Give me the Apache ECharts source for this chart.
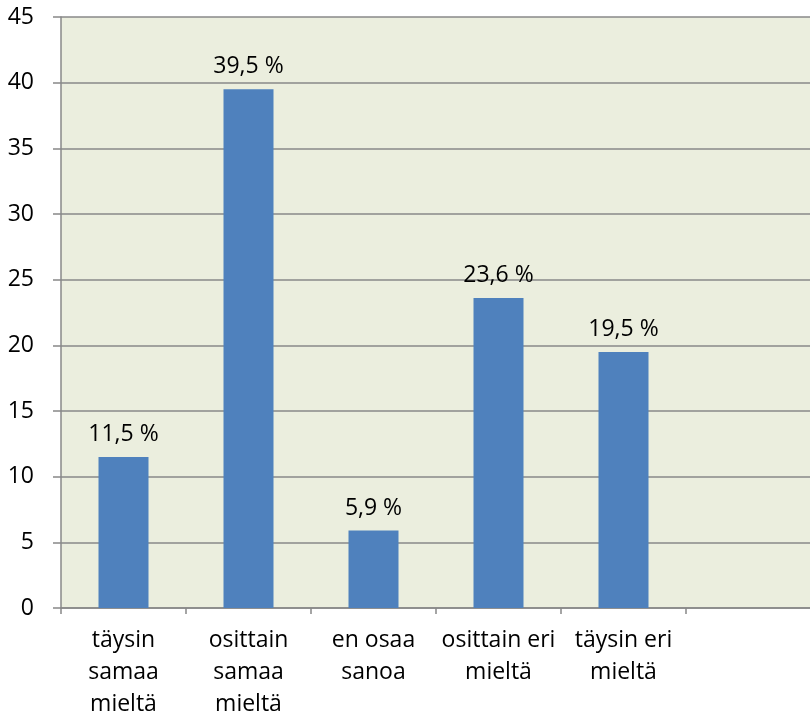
<!DOCTYPE html>
<html>
<head>
<meta charset="utf-8">
<script src="https://cdn.jsdelivr.net/npm/echarts@6/dist/echarts.min.js"></script>
<style>html,body{margin:0;padding:0;background:#fff;}#c{width:810px;height:717px;}</style>
</head>
<body>
<div id="c"></div>
<script>
const categories = ['täysin\nsamaa\nmieltä', 'osittain\nsamaa\nmieltä', 'en osaa\nsanoa', 'osittain eri\nmieltä', 'täysin eri\nmieltä', ''];
const values = [11.5, 39.5, 5.9, 23.6, 19.5, null];
const yTicks = { min: 0, max: 45, interval: 5 };

const chart = echarts.init(document.getElementById('c'));
const font = 'Open Sans';
chart.setOption({
  animation: false,
  grid: { left: 61, right: -1, top: 17, bottom: 109, outerBoundsMode: 'none', containLabel: false, show: true, backgroundColor: '#EBEEDE', borderWidth: 0 },
  xAxis: {
    type: 'category',
    data: categories,
    axisLine: { lineStyle: { color: '#888888', width: 1.5 } },
    axisTick: { show: true, length: 6, lineStyle: { color: '#888888', width: 1.5 } },
    axisLabel: { interval: 0, color: '#000', fontFamily: font, fontSize: 23, lineHeight: 32, margin: 16 },
    splitLine: { show: false }
  },
  yAxis: {
    type: 'value',
    min: yTicks.min, max: yTicks.max, interval: yTicks.interval,
    axisLine: { show: true, lineStyle: { color: '#888888', width: 1.5 } },
    axisTick: { show: true, length: 8, lineStyle: { color: '#888888', width: 1.5 } },
    axisLabel: { color: '#000', fontFamily: font, fontSize: 23, margin: 27 },
    splitLine: { show: true, lineStyle: { color: '#888888', width: 1.5 } }
  },
  series: [{
    type: 'bar',
    data: values,
    barWidth: '40%',
    itemStyle: { color: '#4F81BD' },
    label: {
      show: true, position: 'top', distance: 11,
      color: '#000', fontFamily: font, fontSize: 23,
      formatter: p => p.value == null ? '' : String(p.value).replace('.', ',') + ' %'
    }
  }]
});
</script>
</body>
</html>
